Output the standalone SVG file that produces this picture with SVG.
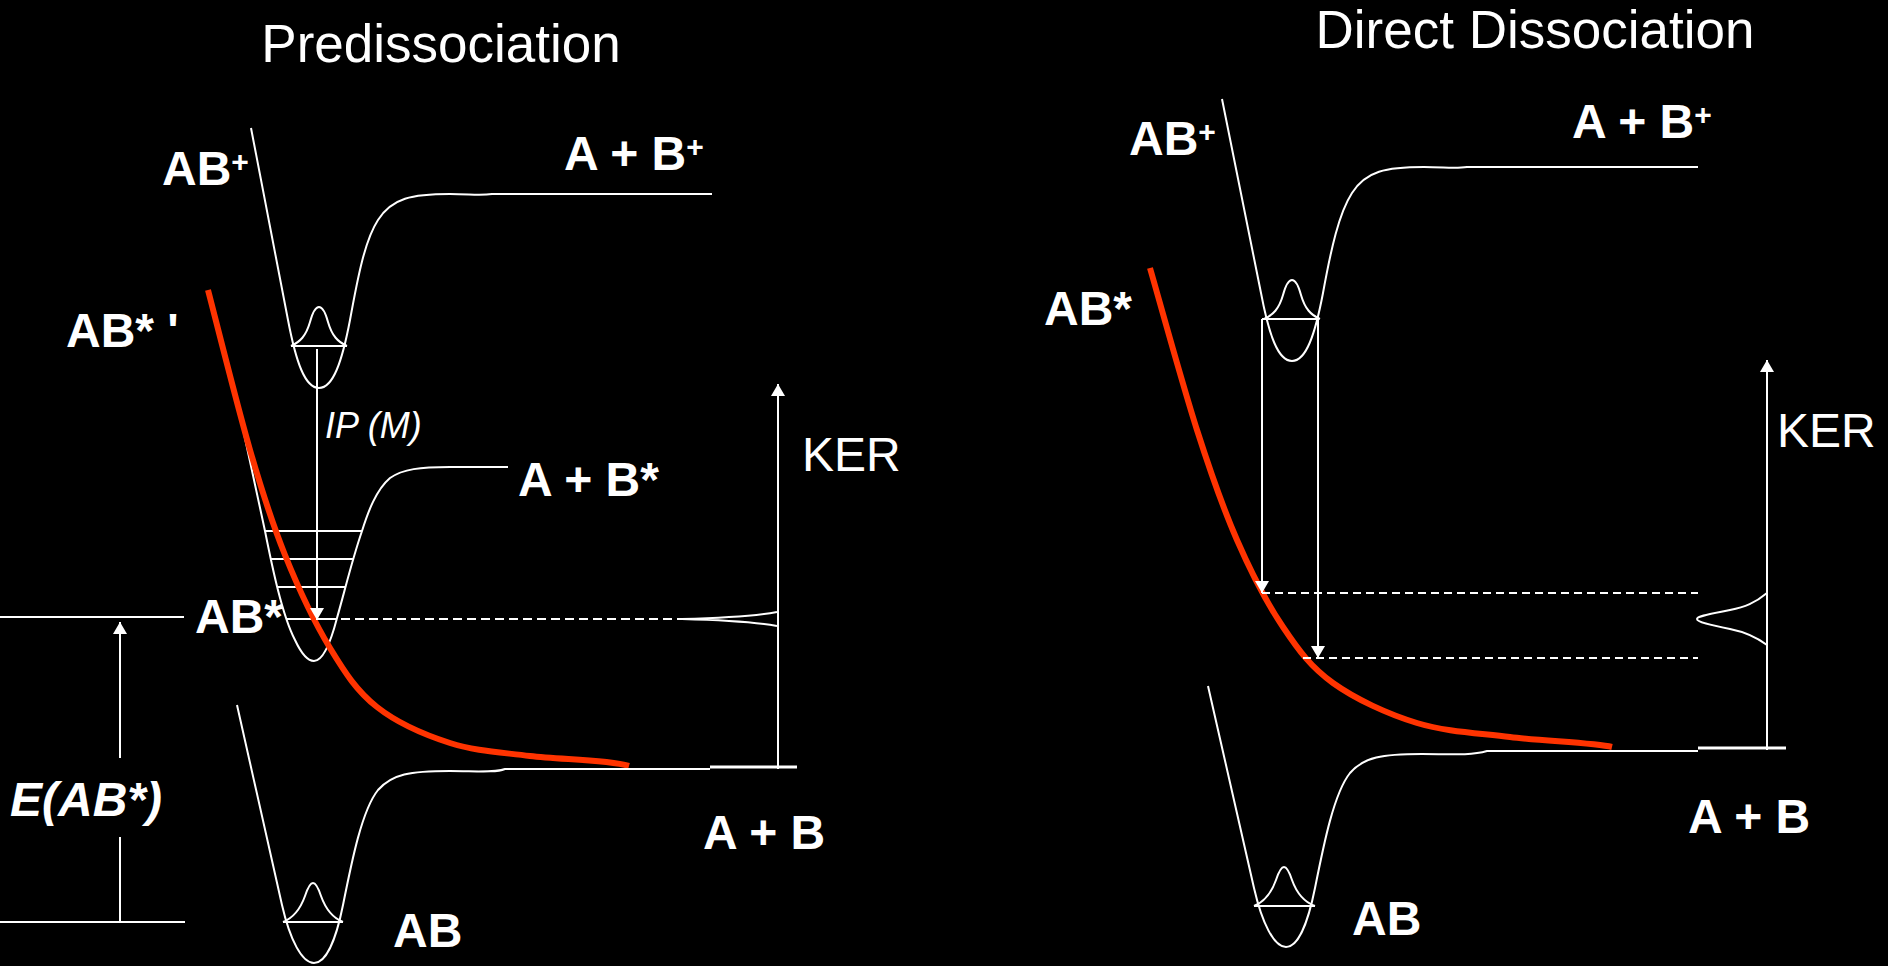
<svg xmlns="http://www.w3.org/2000/svg" width="1888" height="966" viewBox="0 0 1888 966">
<defs>
<style>
.bg{fill:#000}
.c{fill:none;stroke:#fff;stroke-width:2;stroke-linejoin:round}
.ln{stroke:#fff;stroke-width:2;fill:none}
.thick{stroke:#fff;stroke-width:3;fill:none}
.red{fill:none;stroke:#ff3300;stroke-width:6;stroke-linecap:butt}
.dash{stroke:#fff;stroke-width:2;stroke-dasharray:9 5;fill:none}
.dash2{stroke:#fff;stroke-width:2;stroke-dasharray:8 5;fill:none}
.lb{font-family:"Liberation Sans",Arial,sans-serif;font-weight:bold;font-size:48px;fill:#fff}
.sup{font-size:30px}
.title{font-family:"Liberation Sans",Arial,sans-serif;font-size:53px;fill:#fff;text-anchor:middle}
.ker{font-family:"Liberation Sans",Arial,sans-serif;font-size:48px;fill:#fff}
.ip{font-family:"Liberation Sans",Arial,sans-serif;font-style:italic;font-size:36px;fill:#fff}
.e{font-family:"Liberation Sans",Arial,sans-serif;font-style:italic;font-weight:bold;font-size:48px;fill:#fff}
</style>
<marker id="ah" viewBox="0 0 12 14" markerWidth="12" markerHeight="14" refX="12" refY="7" orient="auto" markerUnits="userSpaceOnUse">
<path d="M0,0 L12,7 L0,14 z" fill="#fff"/>
</marker>
</defs>
<rect class="bg" x="0" y="0" width="1888" height="966"/>

<!-- Titles -->
<text id="title-left" class="title" x="441" y="62">Predissociation</text>
<text id="title-right" class="title" x="1535" y="48">Direct Dissociation</text>

<!-- ===== Left panel ===== -->
<g id="L-ABplus">
<path class="c" d="M251,128 L288,320 C296,362 305,388 319,388 C333,388 342,362 350,320 C358,276 365,240 378,220 C392,198 412,194 450,194 C470,194 480,196 492,194 L712,194"/>
<line class="ln" x1="291" y1="346" x2="347" y2="346"/>
<path class="c" d="M291,346 C300,342 306,336 310,322 C313,311 316,307 319,307 C322,307 325,311 328,322 C332,336 338,342 347,346"/>
<text class="lb" x="162" y="185">AB<tspan class="sup" dy="-13">+</tspan></text>
<text class="lb" x="564" y="170">A + B<tspan class="sup" dy="-13">+</tspan></text>
</g>

<g id="L-ABstar">
<path class="c" d="M237,401 L265,531 C272,566 282,615 295,640 C302,655 308,661 314,661 C322,661 330,645 337,618 C345,590 352,560 362,531 C368,512 376,490 390,478 C403,469 420,467 450,467 L508,467"/>
<line class="ln" x1="265" y1="531" x2="362" y2="531"/>
<line class="ln" x1="270" y1="559" x2="353" y2="559"/>
<line class="ln" x1="278" y1="587" x2="345" y2="587"/>
<line class="ln" x1="287" y1="619" x2="337" y2="619"/>
<text class="lb" x="518" y="496">A + B*</text>
<line class="ln" x1="0" y1="617" x2="184" y2="617"/>
<text class="lb" x="195" y="633">AB*</text>
</g>

<g id="L-ABstar-prime">
<path class="red" d="M208,290 C215,316.7 237.2,405.8 250,450 C262.8,494.2 271.7,522 285,555 C298.3,588 314.7,622.7 330,648 C345.3,673.3 357,691.2 377,707 C397,722.8 424.5,734.8 450,743 C475.5,751.2 500.2,752.2 530,756 C559.8,759.8 605,759 629,766"/>
<text class="lb" x="66" y="347">AB* '</text>
</g>

<g id="L-AB">
<path class="c" d="M237,705 L282,905 C290,940 302,963 314,963 C326,963 336,940 343,905 C352,860 362,810 378,790 C392,774 410,771 450,771 C475,771 495,773 505,769 L710,769"/>
<line class="thick" x1="710" y1="767" x2="797" y2="767"/>
<line class="ln" x1="283" y1="922" x2="343" y2="922"/>
<path class="c" d="M283,922 C293,918 300,910 305,896 C308,887 311,883 313,883 C315,883 318,887 321,896 C326,910 333,918 343,922"/>
<line class="ln" x1="0" y1="922" x2="185" y2="922"/>
<text class="lb" x="393" y="947">AB</text>
<text class="lb" x="703" y="849">A + B</text>
</g>

<g id="L-KER">
<path class="c" d="M777,612 C755,616 720,618 682,619 C720,620 755,622 777,626"/>
<text class="ker" x="802" y="471">KER</text>
</g>

<g id="L-labels">
<text class="ip" x="325" y="438">IP (M)</text>
<text class="e" x="10" y="816">E(AB*)</text>
</g>

<!-- ===== Right panel ===== -->
<g id="R-ABplus">
<path class="c" d="M1222,99 L1261,293 C1269,335 1278,361 1292,361 C1306,361 1315,335 1323,293 C1331,249 1339,213 1352,193 C1366,171 1386,167 1424,167 C1444,167 1455,169 1467,167 L1698,167"/>
<line class="ln" x1="1262" y1="319" x2="1318" y2="319"/>
<path class="c" d="M1264,319 C1273,315 1279,309 1283,295 C1286,284 1289,280 1292,280 C1295,280 1298,284 1301,295 C1305,309 1311,315 1320,319"/>
<text class="lb" x="1129" y="155">AB<tspan class="sup" dy="-13">+</tspan></text>
<text class="lb" x="1572" y="138">A + B<tspan class="sup" dy="-13">+</tspan></text>
</g>

<g id="R-ABstar">
<path class="red" d="M1150,268 C1157.8,295 1182.5,384.7 1197,430 C1211.5,475.3 1222.7,507.2 1237,540 C1251.3,572.8 1267,603.2 1283,627 C1299,650.8 1310.7,667 1333,683 C1355.3,699 1387.5,714 1417,723 C1446.5,732 1477.5,733 1510,737 C1542.5,741 1595,743 1612,747"/>
<text class="lb" x="1044" y="325">AB*</text>
</g>

<g id="R-AB">
<path class="c" d="M1208,686 L1254,888 C1262,923 1274,947 1286,947 C1298,947 1308,923 1315,888 C1324,843 1334,793 1350,773 C1364,757 1382,754 1422,754 C1447,754 1470,756 1487,751 L1698,751"/>
<line class="thick" x1="1698" y1="748" x2="1786" y2="748"/>
<line class="ln" x1="1254" y1="906" x2="1315" y2="906"/>
<path class="c" d="M1254,906 C1264,902 1271,894 1276,880 C1279,871 1282,867 1284,867 C1286,867 1289,871 1292,880 C1297,894 1304,902 1315,906"/>
<text class="lb" x="1352" y="935">AB</text>
<text class="lb" x="1688" y="833">A + B</text>
</g>

<g id="R-KER">
<path class="c" d="M1767,593 C1755,603 1745,607 1730,610 C1710,614 1697,616 1697,619 C1697,622 1710,625 1730,629 C1745,632 1755,636 1767,645"/>
<text class="ker" x="1777" y="447">KER</text>
</g>

<!-- ===== Connectors ===== -->
<g id="connectors">
<line class="ln" x1="317" y1="349" x2="317" y2="620" marker-end="url(#ah)"/>
<line class="dash" x1="341" y1="619" x2="682" y2="619"/>
<line class="ln" x1="778" y1="769" x2="778" y2="384" marker-end="url(#ah)"/>
<line class="ln" x1="120" y1="758" x2="120" y2="622" marker-end="url(#ah)"/>
<line class="ln" x1="120" y1="837" x2="120" y2="922"/>
<line class="ln" x1="1262" y1="319" x2="1262" y2="593" marker-end="url(#ah)"/>
<line class="ln" x1="1318" y1="319" x2="1318" y2="658" marker-end="url(#ah)"/>
<line class="dash2" x1="1262" y1="593" x2="1698" y2="593"/>
<line class="dash2" x1="1303" y1="658" x2="1698" y2="658"/>
<line class="ln" x1="1767" y1="750" x2="1767" y2="360" marker-end="url(#ah)"/>
</g>
</svg>
